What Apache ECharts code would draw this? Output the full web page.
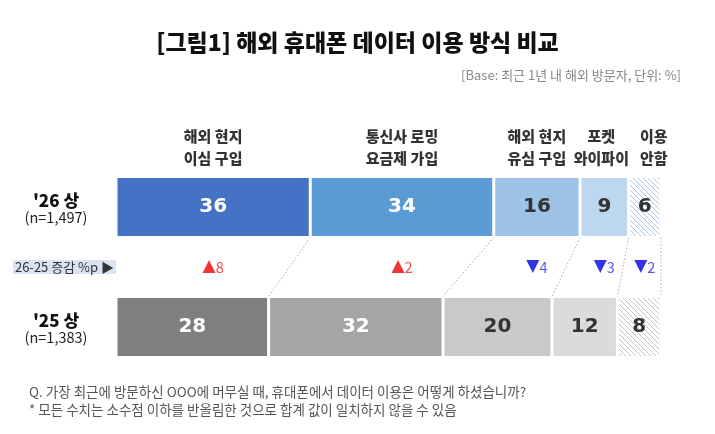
<!DOCTYPE html>
<html>
<head>
<meta charset="utf-8">
<script src="https://cdn.jsdelivr.net/npm/echarts@6/dist/echarts.min.js"></script>
<style>
  html, body { margin: 0; padding: 0; background: #fff; }
  #chart { width: 715px; height: 434px; }
</style>
</head>
<body>
<div id="chart"></div>
<script>
// categories (segments) and rows
var segments = ['해외 현지\n이심 구입', '통신사 로밍\n요금제 가입', '해외 현지\n유심 구입', '포켓\n와이파이', '이용\n안함'];
var rows = ['\'26 상', '26-25 증감 %p ▶', '\'25 상'];
var rowSamples = ['(n=1,497)', '', '(n=1,383)'];
// values, %
var values26 = [36, 34, 16, 9, 6];
var values25 = [28, 32, 20, 12, 8];
var deltas = [8, 2, -4, -3, -2];

var colors26 = ['#4472C4', '#5B9BD5', '#9DC3E6', '#BDD7EE', 'hatchBlue'];
var colors25 = ['#7F7F7F', '#A5A5A5', '#C9C9C9', '#DBDBDB', 'hatchGray'];
var labelColors = ['#ffffff', '#ffffff', '#333333', '#333333', '#333333'];
var headerShift = [0, 0, 0, -3, 9];
var BAR_H = 61;

function hatch(line) {
    var c = document.createElement('canvas');
    c.width = 5; c.height = 5;
    var ctx = c.getContext('2d');
    ctx.fillStyle = '#ffffff';
    ctx.fillRect(0, 0, 5, 5);
    ctx.strokeStyle = line;
    ctx.lineWidth = 1;
    ctx.beginPath();
    ctx.moveTo(-1, -1); ctx.lineTo(6, 6);
    ctx.moveTo(-1, 4); ctx.lineTo(1, 6);
    ctx.moveTo(4, -1); ctx.lineTo(6, 1);
    ctx.stroke();
    return { image: c, repeat: 'repeat' };
}
function fill(name) {
    if (name === 'hatchBlue') return hatch('#A9C8E8');
    if (name === 'hatchGray') return hatch('#C4C4C4');
    return name;
}

// each row stretched to 100
function share(arr) {
    var sum = arr.reduce(function (a, b) { return a + b; }, 0);
    return arr.map(function (v) { return v / sum * 100; });
}
var share26 = share(values26);
var share25 = share(values25);
function cumulative(arr) {
    var out = [], s = 0;
    for (var i = 0; i < arr.length; i++) { s += arr[i]; out.push(s); }
    return out;
}
var cum26 = cumulative(share26);
var cum25 = cumulative(share25);
var centers26 = share26.map(function (v, i) { return cum26[i] - v / 2; });

var series = [];
for (var i = 0; i < segments.length; i++) {
    series.push({
        type: 'bar',
        stack: 'total',
        barWidth: BAR_H,
        clip: false,
        silent: true,
        itemStyle: { borderColor: '#ffffff', borderWidth: 1.5 },
        label: {
            show: true,
            position: 'inside',
            fontFamily: 'DejaVu Sans',
            fontWeight: 'bold',
            fontSize: 20,
            color: labelColors[i],
            formatter: (function (idx) {
                return function (p) {
                    return p.dataIndex === 0 ? values26[idx] : values25[idx];
                };
            })(i)
        },
        data: [
            { value: share26[i], itemStyle: { color: fill(colors26[i]) } },
            '-',
            { value: share25[i], itemStyle: { color: fill(colors25[i]) } }
        ]
    });
}

// dotted connectors between segment edges
var connectData = [];
for (var i = 0; i < segments.length; i++) {
    connectData.push([cum26[i], cum25[i]]);
}
series.push({
    type: 'custom',
    silent: true,
    clip: false,
    renderItem: function (params, api) {
        var top = api.coord([api.value(0), 0]);
        var bot = api.coord([api.value(1), 2]);
        return {
            type: 'line',
            shape: { x1: top[0], y1: top[1] + BAR_H / 2, x2: bot[0], y2: bot[1] - BAR_H / 2 },
            style: { stroke: '#AAAAAA', lineWidth: 1, lineDash: [1.5, 2] }
        };
    },
    encode: { x: [0, 1] },
    data: connectData,
    z: 1
});

// segment headers above the top bar
series.push({
    type: 'scatter',
    symbolSize: 0,
    silent: true,
    label: {
        show: true,
        position: 'top',
        distance: 38,
        fontFamily: 'Noto Sans CJK KR',
        fontWeight: 900,
        fontSize: 15,
        lineHeight: 22,
        color: '#000000',
        align: 'center',
        formatter: function (p) { return segments[p.dataIndex]; }
    },
    data: centers26.map(function (c, i) {
        return { value: [c, 0], label: { offset: [headerShift[i], 0] } };
    })
});

// change labels in the middle row
series.push({
    type: 'scatter',
    symbolSize: 0,
    silent: true,
    label: {
        show: true,
        position: 'inside',
        fontFamily: 'Noto Sans CJK KR',
        fontSize: 14,
        formatter: function (p) {
            var d = deltas[p.dataIndex];
            return d >= 0 ? '{upA|▲}{up|' + d + '}' : '{downA|▼}{down|' + Math.abs(d) + '}';
        },
        rich: {
            upA: { color: '#F00000', fontSize: 17, fontFamily: 'DejaVu Sans' },
            up: { color: '#F02020', fontSize: 14.5, fontFamily: 'Noto Sans CJK KR' },
            downA: { color: '#0000E0', fontSize: 17, fontFamily: 'DejaVu Sans' },
            down: { color: '#2A2AEE', fontSize: 14.5, fontFamily: 'Noto Sans CJK KR' }
        }
    },
    data: centers26.map(function (c) { return [c, 1]; })
});

var chart = echarts.init(document.getElementById('chart'));
chart.setOption({
    animation: false,
    backgroundColor: '#ffffff',
    title: [{
        text: '[그림1] 해외 휴대폰 데이터 이용 방식 비교',
        left: 'center',
        top: 26,
        textStyle: { fontFamily: 'Noto Sans CJK KR', fontWeight: 900, fontSize: 23, color: '#111111' }
    }, {
        text: '[Base: 최근 1년 내 해외 방문자, 단위: %]',
        right: 29,
        top: 64,
        textStyle: { fontFamily: 'Noto Sans CJK KR', fontWeight: 'normal', fontSize: 13, color: '#888888' }
    }, {
        text: 'Q. 가장 최근에 방문하신 OOO에 머무실 때, 휴대폰에서 데이터 이용은 어떻게 하셨습니까?\n* 모든 수치는 소수점 이하를 반올림한 것으로 합계 값이 일치하지 않을 수 있음',
        left: 24,
        top: 378,
        textStyle: { fontFamily: 'Noto Sans CJK KR', fontWeight: 'normal', fontSize: 13.5, lineHeight: 18, color: '#555555' }
    }],
    grid: { left: 116, right: 54, top: 207, bottom: 107, outerBoundsMode: 'none' },
    xAxis: {
        type: 'value',
        min: 0,
        max: 100,
        show: false
    },
    yAxis: {
        type: 'category',
        inverse: true,
        boundaryGap: false,
        data: rows,
        axisLine: { show: false },
        axisTick: { show: false },
        splitLine: { show: false },
        axisLabel: {
            margin: 0,
            align: 'right',
            formatter: function (val, idx) {
                if (idx === 1) return '{mid|' + val + '}';
                return '{year|' + val + '}\n{n|' + rowSamples[idx] + '}';
            },
            rich: {
                year: { width: 120, align: 'center', fontFamily: 'Noto Sans CJK KR', fontWeight: 900, fontSize: 17, lineHeight: 20, padding: [5, 0, 0, 0], color: '#111111' },
                n: { width: 120, align: 'center', fontFamily: 'Noto Sans CJK KR', fontSize: 14.5, lineHeight: 18, color: '#222222' },
                mid: { fontFamily: 'Noto Sans CJK KR', fontSize: 13, color: '#333333', backgroundColor: '#DAE3F3', padding: [1, 2, 0, 2] }
            }
        }
    },
    series: series
});
</script>
</body>
</html>
